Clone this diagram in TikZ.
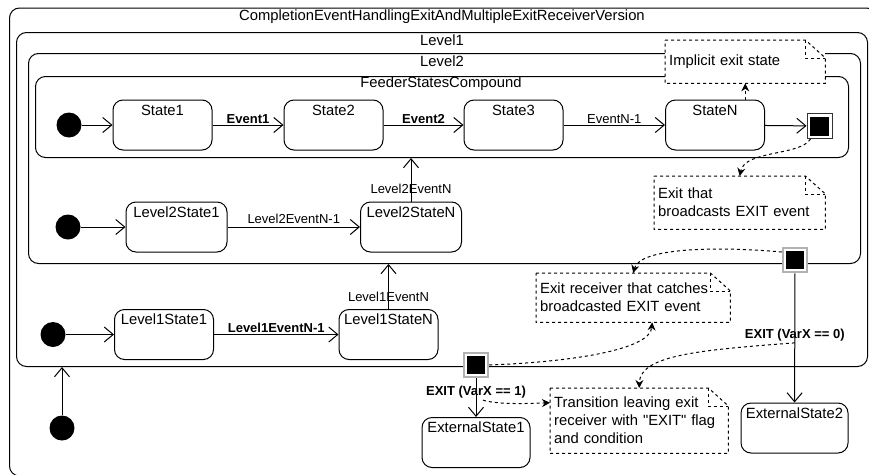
\documentclass[tikz,border=0pt]{standalone}
\usepackage{fontspec}
\setmainfont[Ligatures=TeXOff]{Liberation Sans}
\usetikzlibrary{arrows.meta}
\newcommand\notefold[1]{%
  \draw[noteline] (#1.north west) -- ([xshift=-20pt]#1.north east)
    -- ([yshift=-18pt]#1.north east) -- (#1.south east) -- (#1.south west) -- cycle;
  \draw[noteline] ([xshift=-20pt]#1.north east) |- ([yshift=-18pt]#1.north east);}
\begin{document}
\begin{tikzpicture}[x=1pt,y=-1pt,
  txt/.style={font=\fontsize{14.8}{18}\selectfont},
  frame/.style={draw, line width=1pt, rounded corners=10pt, anchor=north west, inner sep=0pt},
  ftitle/.style={txt, inner sep=0pt},
  state/.style={draw, line width=1pt, rounded corners=10pt, minimum width=99pt,
    inner xsep=1pt, inner ysep=2pt, text height=13pt, text depth=33pt, txt},
  initial/.style={circle, fill=black, minimum size=25pt, inner sep=0pt},
  exitpt/.style={draw=gray!60, line width=2.5pt, fill=white, minimum size=24pt, inner sep=0pt,
    path picture={\fill[black] ([shift={(3pt,3pt)}]path picture bounding box.south west)
      rectangle ([shift={(-3pt,-3pt)}]path picture bounding box.north east);}},
  trans/.style={line width=1pt, -{Straight Barb[length=9pt,width=15pt,line width=1pt]}},
  elabel/.style={font=\fontsize{13}{15}\selectfont, inner sep=1pt},
  blabel/.style={elabel, font=\fontsize{13}{15}\selectfont\bfseries},
  note/.style={txt, fill=white, anchor=north west, inner xsep=4pt, inner ysep=0pt, align=left},
  noteline/.style={line width=1pt, dash pattern=on 3pt off 3pt},
  notelink/.style={noteline, -{Stealth[length=8pt,width=8pt]}}
]
\useasboundingbox (0,0) rectangle (869,474);

% nested composite states
\node[frame, minimum width=867pt, minimum height=468pt] (top) at (9,7.5) {};
\node[ftitle] (ttop) at (442,17) {CompletionEventHandlingExitAndMultipleExitReceiverVersion};
\node[frame, minimum width=851pt, minimum height=334pt] (L1) at (16,32) {};
\node[ftitle] (tL1) at (442,40) {Level1};
\node[frame, minimum width=832pt, minimum height=210pt] (L2) at (28,53) {};
\node[ftitle] (tL2) at (442,61) {Level2};
\node[frame, minimum width=813pt, minimum height=81pt] (FS) at (35,76) {};
\node[ftitle] (tFS) at (441,84) {FeederStatesCompound};

% feeder states
\node[initial] (i1) at (69,125) {};
\node[state] (s1) at (162.5,125) {State1};
\node[state] (s2) at (333.5,125) {State2};
\node[state] (s3) at (513.5,125) {State3};
\node[state] (sN) at (715,125) {StateN};
\node[exitpt, minimum size=25pt, draw=black!80, line width=1pt] (fin) at (819.5,126) {};

% level 2 states
\node[initial] (i2) at (68,227) {};
\node[state, minimum width=101pt] (l2s1) at (176.5,227) {Level2State1};
\node[state, minimum width=101pt] (l2sN) at (411,227) {Level2StateN};
\node[exitpt] (x2) at (795,260) {};

% level 1 states
\node[initial] (i3) at (53,334.5) {};
\node[state] (l1s1) at (164,334.5) {Level1State1};
\node[state] (l1sN) at (388.5,334.5) {Level1StateN};
\node[exitpt] (x1) at (476,365) {};

% outside
\node[initial] (i4) at (62,428) {};
\node[state, minimum width=108pt] (es1) at (476,442.5) {ExternalState1};
\node[state, minimum width=107pt] (es2) at (794.5,428) {ExternalState2};

% transitions
\draw[trans] (i1) -- (s1);
\draw[trans] (s1) -- node[blabel, above] (e1) {Event1} (s2);
\draw[trans] (s2) -- node[blabel, above] (e2) {Event2} (s3);
\draw[trans] (s3) -- node[elabel, above] (e3) {EventN-1} (sN);
\draw[trans] (sN) -- (fin);
\draw[trans] (i2) -- (l2s1);
\draw[trans] (l2s1) -- node[elabel, above=2pt] (e4) {Level2EventN-1} (l2sN);
\draw[trans] (l2sN.north) -- node[elabel, pos=0.3] (e5) {Level2EventN} (l2sN.north |- FS.south);
\draw[trans] (i3) -- (l1s1);
\draw[trans] (l1s1) -- node[blabel, above] (e6) {Level1EventN-1} (l1sN);
\draw[trans] (l1sN.north) -- node[elabel, pos=0.28] (e7) {Level1EventN} (l1sN.north |- L2.south);
\draw[trans] (i4) -- (i4 |- L1.south);
\draw[trans] (x1) -- node[blabel, pos=0.37] (lab1) {EXIT (VarX == 1)} (es1);
\draw[trans] (x2) -- node[blabel, pos=0.48] (lab0) {EXIT (VarX == 0)} (es2);

% comment notes
\node[note, minimum width=160pt, minimum height=43pt, text width=152pt] (n1) at (665,40) {Implicit exit state};
\notefold{n1}
\node[note, minimum width=171pt, minimum height=53pt, text width=163pt] (n2) at (654,176) {Exit that\\broadcasts EXIT event};
\notefold{n2}
\node[note, minimum width=194pt, minimum height=49pt, text width=186pt] (n3) at (536,273) {Exit receiver that catches\\broadcasted EXIT event};
\notefold{n3}
\node[note, minimum width=178pt, minimum height=65pt, text width=170pt] (n4) at (550,388) {Transition leaving exit\\receiver with "EXIT" flag\\and condition};
\notefold{n4}

% note links
\draw[notelink] (sN.north -| n1.south) -- (n1.south);
\draw[notelink] ([xshift=4pt]fin.south west) .. controls (800,156) and (745,150) .. (n2.north);
\draw[notelink] ([yshift=8pt]x2.west) .. controls (715,246) and (640,248) .. (n3.north);
\draw[notelink] (x1.east) .. controls (570,362) and (650,350) .. ([xshift=19pt]n3.south);
\draw[notelink] (lab0.south) .. controls (700,350) and (640,355) .. (n4.north);
\draw[notelink] ([xshift=7pt]lab1.south) .. controls (495,404) and (520,404) .. ([yshift=18pt]n4.west);
\end{tikzpicture}
\end{document}
